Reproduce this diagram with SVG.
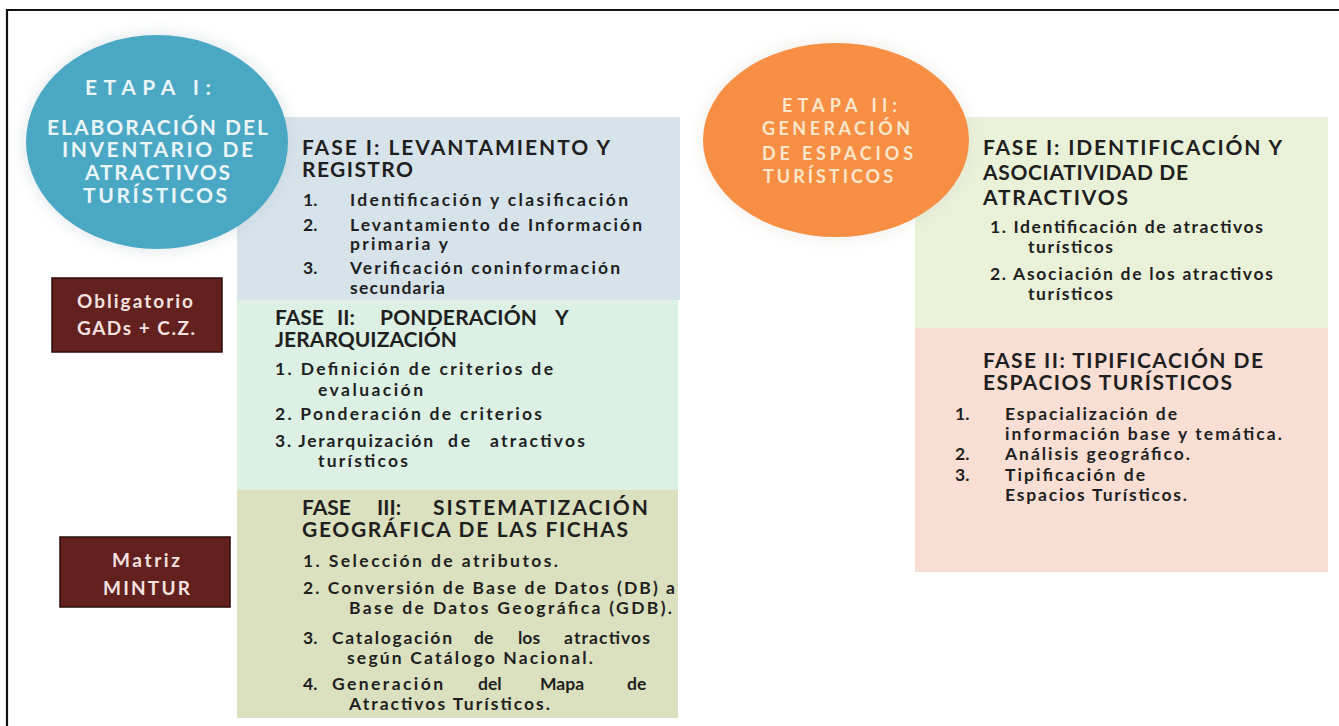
<svg xmlns="http://www.w3.org/2000/svg" width="1339" height="726" viewBox="0 0 1339 726">
<defs>
<filter id="glow" x="-20%" y="-20%" width="140%" height="140%">
<feGaussianBlur stdDeviation="7"/>
</filter>
<style>
.t{font-family:Lato,"Liberation Sans",sans-serif;font-weight:700;fill:#1f1f1f}
.h{font-size:21px}
.i{font-size:17.5px}
.c{font-size:21px;fill:#eaf5f8}
.o{font-size:18px;fill:#fbe6cc}
.d{font-size:19px;fill:#f4e2e0}
.box{stroke:none}
.dark{fill:#62201f;stroke:#2e0c0c;stroke-width:1.5}
</style>
</defs>
<rect x="0" y="0" width="1339" height="726" fill="#ffffff"/>
<path d="M7,726 V10 H1339" fill="none" stroke="#111" stroke-width="2.2"/>

<g id="fase1-levantamiento">
<rect class="box" x="237" y="117" width="443" height="183" fill="#d6e3ea"/>
<text class="t h" x="302" y="155" textLength="308">FASE I: LEVANTAMIENTO Y</text>
<text class="t h" x="302" y="177" textLength="111">REGISTRO</text>
<text class="t i" x="303" y="206">1.</text>
<text class="t i" x="350" y="206" textLength="278">Identificación y clasificación</text>
<text class="t i" x="303" y="231">2.</text>
<text class="t i" x="350" y="231" textLength="292">Levantamiento de Información</text>
<text class="t i" x="350" y="250" textLength="98">primaria y</text>
<text class="t i" x="303" y="274">3.</text>
<text class="t i" x="350" y="274" textLength="270">Verificación coninformación</text>
<text class="t i" x="350" y="294" textLength="95">secundaria</text>
</g>

<g id="fase2-ponderacion">
<rect class="box" x="237" y="300" width="441" height="190" fill="#dcf0e4"/>
<text class="t h" y="325"><tspan x="275">FASE</tspan><tspan x="337">II:</tspan><tspan x="380" textLength="157">PONDERACIÓN</tspan><tspan x="555">Y</tspan></text>
<text class="t h" x="275" y="347" textLength="182">JERARQUIZACIÓN</text>
<text class="t i" x="275" y="375" textLength="278">1. Definición de criterios de</text>
<text class="t i" x="318" y="396" textLength="105">evaluación</text>
<text class="t i" x="275" y="420" textLength="267">2. Ponderación de criterios</text>
<text class="t i" y="447"><tspan x="275" textLength="158">3. Jerarquización</tspan><tspan x="448" textLength="22">de</tspan><tspan x="490" textLength="95">atractivos</tspan></text>
<text class="t i" x="318" y="467" textLength="90">turísticos</text>
</g>

<g id="fase3-sistematizacion">
<rect class="box" x="237" y="490" width="441" height="228" fill="#dbe0bf"/>
<text class="t h" y="515"><tspan x="302">FASE</tspan><tspan x="377">III:</tspan><tspan x="433" textLength="215">SISTEMATIZACIÓN</tspan></text>
<text class="t h" x="302" y="537" textLength="326">GEOGRÁFICA DE LAS FICHAS</text>
<text class="t i" x="303" y="567" textLength="255">1. Selección de atributos.</text>
<text class="t i" x="303" y="594" textLength="372">2. Conversión de Base de Datos (DB) a</text>
<text class="t i" x="349" y="614" textLength="323">Base de Datos Geográfica (GDB).</text>
<text class="t i" y="644"><tspan x="303">3.</tspan><tspan x="332" textLength="120">Catalogación</tspan><tspan x="474">de</tspan><tspan x="518">los</tspan><tspan x="564" textLength="86">atractivos</tspan></text>
<text class="t i" x="347" y="664" textLength="246">según Catálogo Nacional.</text>
<text class="t i" y="690"><tspan x="303">4.</tspan><tspan x="332" textLength="111">Generación</tspan><tspan x="478">del</tspan><tspan x="540">Mapa</tspan><tspan x="627">de</tspan></text>
<text class="t i" x="349" y="710" textLength="201">Atractivos Turísticos.</text>
</g>

<g id="etapa1">
<ellipse cx="157" cy="142" rx="134" ry="110" fill="#b9c6cb" opacity="0.35" filter="url(#glow)"/>
<ellipse cx="157" cy="142" rx="131" ry="107" fill="#4aa8c5"/>
<text class="t c" x="85" y="95" textLength="126">ETAPA  I:</text>
<text class="t c" x="47" y="135" textLength="221">ELABORACIÓN DEL</text>
<text class="t c" x="62" y="157" textLength="191">INVENTARIO DE</text>
<text class="t c" x="85" y="180" textLength="145">ATRACTIVOS</text>
<text class="t c" x="83" y="203" textLength="144">TURÍSTICOS</text>
</g>

<g id="obligatorio">
<rect class="dark" x="52" y="278" width="170" height="74"/>
<text class="t d" x="77" y="308" textLength="116">Obligatorio</text>
<text class="t d" x="77" y="335" textLength="118">GADs + C.Z.</text>
</g>

<g id="matriz">
<rect class="dark" x="60" y="537" width="170" height="70"/>
<text class="t d" x="112" y="567" textLength="68">Matriz</text>
<text class="t d" x="103" y="595" textLength="87">MINTUR</text>
</g>

<g id="fase1-identificacion">
<rect class="box" x="915" y="117" width="413" height="211" fill="#e9f1d9"/>
<text class="t h" x="983" y="155" textLength="299">FASE I: IDENTIFICACIÓN Y</text>
<text class="t h" x="983" y="180" textLength="205">ASOCIATIVIDAD DE</text>
<text class="t h" x="983" y="205" textLength="145">ATRACTIVOS</text>
<text class="t i" x="990" y="233" textLength="273">1. Identificación de atractivos</text>
<text class="t i" x="1028" y="253" textLength="85">turísticos</text>
<text class="t i" x="990" y="280" textLength="283">2. Asociación de los atractivos</text>
<text class="t i" x="1028" y="300" textLength="85">turísticos</text>
</g>

<g id="fase2-tipificacion">
<rect class="box" x="915" y="328" width="413" height="244" fill="#f8ded3"/>
<text class="t h" x="983" y="368" textLength="280">FASE II: TIPIFICACIÓN DE</text>
<text class="t h" x="983" y="390" textLength="249">ESPACIOS TURÍSTICOS</text>
<text class="t i" x="955" y="420">1.</text>
<text class="t i" x="1005" y="420" textLength="172">Espacialización de</text>
<text class="t i" x="1005" y="440" textLength="277">información base y temática.</text>
<text class="t i" x="955" y="460">2.</text>
<text class="t i" x="1005" y="460" textLength="185">Análisis geográfico.</text>
<text class="t i" x="955" y="481">3.</text>
<text class="t i" x="1005" y="481" textLength="140">Tipificación de</text>
<text class="t i" x="1005" y="501" textLength="182">Espacios Turísticos.</text>
</g>

<g id="etapa2">
<ellipse cx="836" cy="140" rx="136" ry="101" fill="#d8d0c4" opacity="0.3" filter="url(#glow)"/>
<ellipse cx="836" cy="140" rx="133" ry="97" fill="#f68f44"/>
<text class="t o" x="782" y="112" textLength="115">ETAPA II:</text>
<text class="t o" x="762" y="135" textLength="148">GENERACIÓN</text>
<text class="t o" x="762" y="160" textLength="151">DE  ESPACIOS</text>
<text class="t o" x="763" y="183" textLength="130">TURÍSTICOS</text>
</g>

<g id="connectors"/>
</svg>
